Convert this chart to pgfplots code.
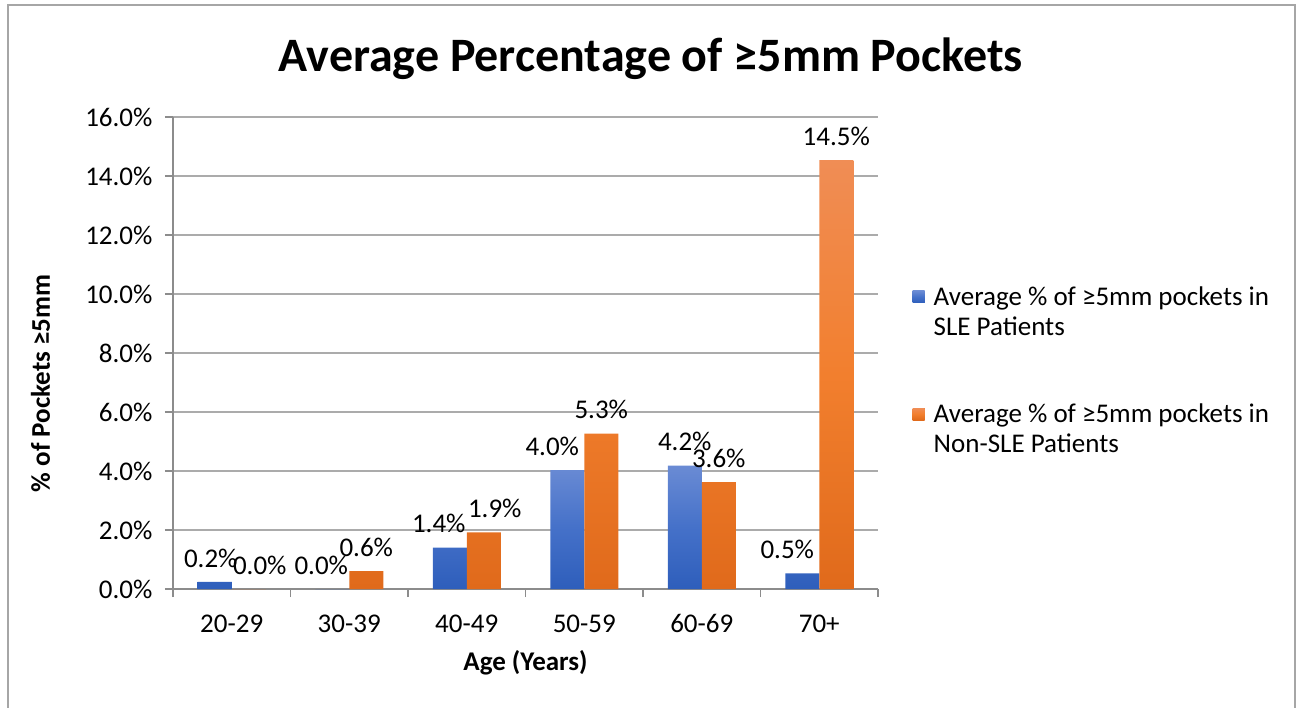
\documentclass[border=0pt]{standalone}
\usepackage{fontspec}
\setmainfont{Carlito}
\usepackage{pgfplots}
\pgfplotsset{compat=1.18}
\definecolor{axisgray}{HTML}{8C8C8C}
\definecolor{gridgray}{HTML}{ABABAB}
\definecolor{framegray}{HTML}{A6A6A6}
\definecolor{blueTop}{HTML}{6A8BD4}
\definecolor{blueMid}{HTML}{4571C9}
\definecolor{blueBot}{HTML}{2E5EBB}
\definecolor{orTop}{HTML}{F08D55}
\definecolor{orMid}{HTML}{F27F2E}
\definecolor{orBot}{HTML}{E06A1B}
\definecolor{blueLeg}{HTML}{4472C4}
\definecolor{orLeg}{HTML}{ED7D31}
\newcommand{\lf}{\fontsize{27bp}{30bp}\selectfont}
\begin{document}
\begin{tikzpicture}
\begin{axis}[
  at={(173bp,119bp)}, anchor=south west,
  scale only axis, width=705bp, height=472bp,
  /pgf/number format/assume math mode=true,
  ybar=0pt, bar width=34bp,
  xmin=-0.5, xmax=5.5, ymin=0, ymax=16,
  axis x line*=bottom, axis y line*=left,
  axis line style={draw=axisgray, line width=1.2bp, -},
  tick align=outside,
  major tick length=8bp, minor tick length=8bp,
  every tick/.style={draw=axisgray, line width=1.2bp},
  major x tick style={draw=none},
  xtick={0,1,2,3,4,5},
  xticklabels={20-29,30-39,40-49,50-59,60-69,70+},
  minor xtick={-0.5,0.5,1.5,2.5,3.5,4.5,5.5},
  ytick={0,2,4,6,8,10,12,14,16},
  yticklabel={\pgfmathprintnumber[fixed,fixed zerofill,precision=1]{\tick}\%},
  ymajorgrids,
  major grid style={draw=gridgray, line width=1.2bp},
  tick label style={font=\lf, text=black},
  xticklabel style={yshift=-14bp},
  yticklabel style={xshift=-9bp},
  title={Average Percentage of ≥5mm Pockets},
  title style={at={(rel axis cs:0.678,1.110)}, anchor=center, font=\bfseries\fontsize{48bp}{54bp}\selectfont},
  xlabel={Age (Years)},
  xlabel style={at={(rel axis cs:0.5,-0.157)}, anchor=center, font=\bfseries\lf},
  ylabel={\% of Pockets ≥5mm},
  ylabel style={at={(rel axis cs:-0.188,0.436)}, anchor=center, font=\bfseries\lf},
  nodes near coords={\pgfmathprintnumber[fixed,fixed zerofill,precision=1]{\pgfplotspointmeta}\%},
  every node near coord/.append style={font=\lf, text=black, anchor=south, yshift=11bp},
  legend cell align=left,
  legend style={at={(rel axis cs:1.049,0.645)}, anchor=north west, draw=none, fill=none,
    font=\lf, cells={align=left}, row sep=63bp, inner sep=0pt,
    /tikz/every odd column/.append style={column sep=7bp}},
]
\addplot[draw=none, top color=blueTop, bottom color=blueBot, middle color=blueMid,
  every node near coord/.append style={xshift={{-4,-11,-11,-15,0,-15}[\coordindex]*1bp}},
  legend image code/.code={\fill[blueLeg] (0bp,9bp) rectangle (12bp,21bp);}]
  coordinates {(0,0.24) (1,0) (2,1.40) (3,4.03) (4,4.18) (5,0.53)};
\addlegendentry{Average \% of ≥5mm pockets in\\SLE Patients}
\addplot[draw=none, top color=orTop, bottom color=orBot, middle color=orMid,
  every node near coord/.append style={xshift={{11,0,11,0,0,0}[\coordindex]*1bp}},
  legend image code/.code={\fill[orLeg] (0bp,9bp) rectangle (12bp,21bp);}]
  coordinates {(0,0) (1,0.61) (2,1.92) (3,5.27) (4,3.62) (5,14.54)};
\addlegendentry{Average \% of ≥5mm pockets in\\Non-SLE Patients}
\end{axis}
\draw[framegray, line width=1.5bp] (8bp,-10bp) -- (8bp,703bp) -- (1295bp,703bp) -- (1295bp,-10bp);
\pgfresetboundingbox
\useasboundingbox (0,0) rectangle (1301bp,708bp);
\end{tikzpicture}
\end{document}
